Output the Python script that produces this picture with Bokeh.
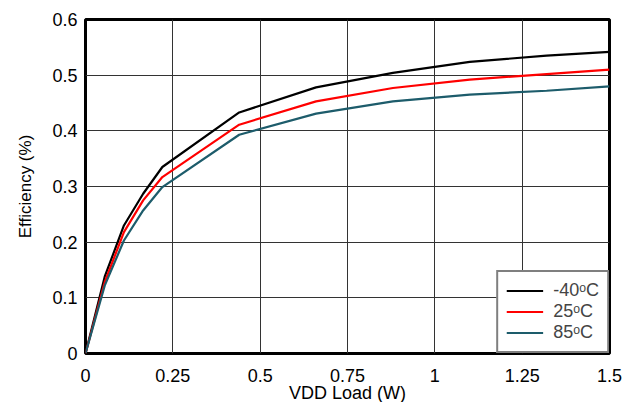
from bokeh.plotting import figure
from bokeh.embed import file_html
from bokeh.resources import INLINE
from bokeh.models import Range1d, FixedTicker, Legend, LegendItem

# Data
load_w = [0.0, 0.055, 0.11, 0.165, 0.22, 0.44, 0.66, 0.88, 1.1, 1.32, 1.5]
eff_m40 = [0.0, 0.138, 0.230, 0.287, 0.335, 0.433, 0.478, 0.504, 0.524, 0.535, 0.542]
eff_25 = [0.0, 0.128, 0.218, 0.275, 0.317, 0.411, 0.453, 0.477, 0.492, 0.502, 0.510]
eff_85 = [0.0, 0.122, 0.203, 0.257, 0.299, 0.393, 0.431, 0.453, 0.465, 0.472, 0.480]
series_names = ["-40ᵒC", "25ᵒC", "85ᵒC"]
series_colors = ["#000000", "#ff0000", "#1d5c6b"]

x_ticks = [0, 0.25, 0.5, 0.75, 1.0, 1.25, 1.5]
x_tick_labels = ["0", "0.25", "0.5", "0.75", "1", "1.25", "1.5"]
y_ticks = [0, 0.1, 0.2, 0.3, 0.4, 0.5, 0.6]
y_tick_labels = ["0", "0.1", "0.2", "0.3", "0.4", "0.5", "0.6"]

FONT = "Liberation Sans"

p = figure(width=635, height=405, output_backend="svg", toolbar_location=None,
           x_range=Range1d(0, 1.5), y_range=Range1d(0, 0.6),
           min_border_left=85, min_border_right=26, min_border_top=19, min_border_bottom=52)

p.outline_line_color = "black"
p.outline_line_width = 3

for ax, ticks, labels in ((p.xaxis, x_ticks, x_tick_labels), (p.yaxis, y_ticks, y_tick_labels)):
    ax.ticker = FixedTicker(ticks=ticks)
    ax.major_label_overrides = {t: l for t, l in zip(ticks, labels)}
    ax.axis_line_color = None
    ax.major_tick_line_color = None
    ax.minor_tick_line_color = None
    ax.major_tick_out = 0
    ax.major_tick_in = 0
    ax.major_label_text_font = FONT
    ax.major_label_text_font_size = "18px"
    ax.major_label_text_color = "black"
    ax.axis_label_text_font = FONT
    ax.axis_label_text_font_style = "normal"
    ax.axis_label_text_color = "black"

p.xaxis.axis_label = "VDD Load (W)"
p.xaxis.axis_label_text_font_size = "18px"
p.xaxis.major_label_standoff = 15
p.xaxis.axis_label_standoff = -2
p.yaxis.axis_label = "Efficiency (%)"
p.yaxis.axis_label_text_font_size = "17px"
p.yaxis.major_label_standoff = 8
p.yaxis.axis_label_standoff = 14

p.grid.grid_line_color = "#333333"
p.grid.grid_line_width = 1

items = []
for ys, name, col in zip([eff_m40, eff_25, eff_85], series_names, series_colors):
    r = p.line(load_w, ys, line_color=col, line_width=2.2)
    items.append(LegendItem(label=name, renderers=[r]))

legend = Legend(items=items, location="bottom_right")
legend.border_line_color = "black"
legend.border_line_width = 2
legend.background_fill_color = "white"
legend.background_fill_alpha = 1
legend.label_text_font = FONT
legend.label_text_font_size = "18px"
legend.glyph_width = 37
legend.glyph_height = 19
legend.label_height = 19
legend.spacing = 0
legend.padding = 8
legend.margin = 0
legend.label_standoff = 10
p.add_layout(legend)

open("out.html", "w").write(file_html(p, INLINE))
